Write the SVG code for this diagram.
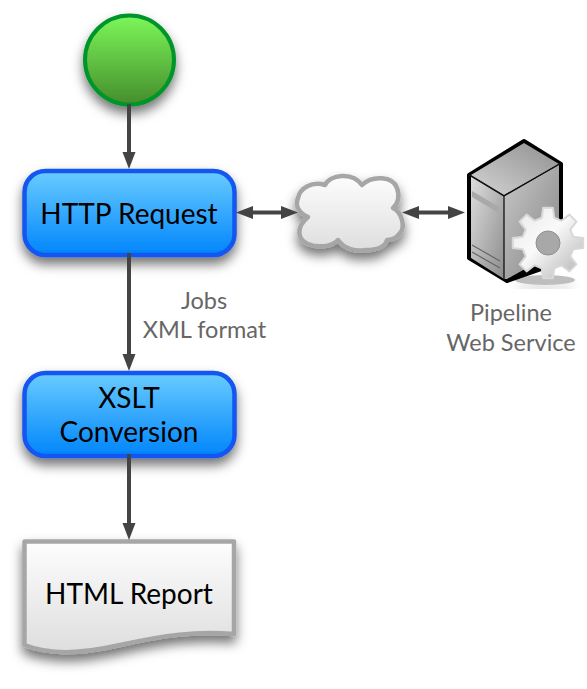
<svg xmlns="http://www.w3.org/2000/svg" width="587" height="689" viewBox="0 0 587 689">
<style>
.t{font-family:Lato,"Open Sans",sans-serif;text-anchor:middle}
.n{font-size:28px;fill:#000}
.l{font-size:23.500px;fill:#666}
.c{stroke:#444;stroke-width:4;fill:none}
.box{fill:url(#blue);stroke:#1257f0;stroke-width:4.500;filter:url(#sh)}
.gr{fill:url(#grey);stroke:#a6a6a6;stroke-width:4.500;stroke-linejoin:round;filter:url(#sh)}
</style>
<defs>
<linearGradient id="green" x1="0" y1="0" x2="0" y2="1"><stop offset="0" stop-color="#7cf75a"/><stop offset="1" stop-color="#458d2c"/></linearGradient>
<linearGradient id="blue" x1="0" y1="0" x2="0" y2="1"><stop offset="0" stop-color="#6accff"/><stop offset="1" stop-color="#0085fb"/></linearGradient>
<linearGradient id="grey" x1="0" y1="0" x2="0" y2="1"><stop offset="0" stop-color="#fdfdfd"/><stop offset="1" stop-color="#dedede"/></linearGradient>
<linearGradient id="top" x1="0" y1="1" x2="1" y2="0"><stop offset="0" stop-color="#d4d4d4"/><stop offset="1" stop-color="#8f8f8f"/></linearGradient>
<linearGradient id="left" x1="0" y1="0" x2="1" y2="1"><stop offset="0" stop-color="#dedede"/><stop offset="1" stop-color="#8c8c8c"/></linearGradient>
<linearGradient id="right" x1="0" y1="0" x2="1" y2="1"><stop offset="0" stop-color="#c8c8c8"/><stop offset="1" stop-color="#848484"/></linearGradient>
<linearGradient id="gear" x1="0" y1="0" x2="1" y2="1"><stop offset="0" stop-color="#e8e8e8"/><stop offset="0.45" stop-color="#fafafa"/><stop offset="1" stop-color="#b0b0b0"/></linearGradient>
<filter id="sh" x="-30%" y="-30%" width="160%" height="170%"><feDropShadow dx="0" dy="7" stdDeviation="6" flood-color="#000" flood-opacity="0.55"/></filter>
<marker id="end" viewBox="0 0 17 14" refX="3" refY="7" markerWidth="17" markerHeight="14" markerUnits="userSpaceOnUse" orient="auto"><path d="M0 0.500L17 7L0 13.500Z" fill="#444"/></marker>
<marker id="start" viewBox="0 0 17 14" refX="14" refY="7" markerWidth="17" markerHeight="14" markerUnits="userSpaceOnUse" orient="auto"><path d="M17 0.500L0 7L17 13.500Z" fill="#444"/></marker>
</defs>
<rect width="587" height="689" fill="#fff"/>
<g id="start-node"><circle cx="129.500" cy="60" r="44.500" fill="url(#green)" stroke="#03952c" stroke-width="4" filter="url(#sh)"/></g>
<g id="http-request"><rect class="box" x="24.500" y="171" width="210" height="84" rx="21"/><text class="t n" x="129" y="224">HTTP Request</text></g>
<g id="xslt-conversion"><rect class="box" x="24.500" y="373" width="210" height="83" rx="21"/><text class="t n" x="129" y="408">XSLT</text><text class="t n" x="129" y="442">Conversion</text></g>
<g id="html-report"><path class="gr" d="M24.500 541.500H234V634C195 631 165 635 120 645C80 654 50 655 24.500 645Z"/><text class="t n" x="129" y="604">HTML Report</text></g>
<g id="cloud"><path class="gr" d="M308 217C298 212 295 205 298 198C300 188 312 181 325 185C330 175 352 171 362 185C372 175 393 176 397 188C400 196 398 204 393 208C403 213 405 228 400 233C397 238 392 240 387 240C385 247 376 250 366 250C356 252 344 249 338 240C332 247 318 248 308 244C298 240 295 228 308 217Z"/></g>
<g id="server">
<path d="M524 141L561 164V262L507 281L469 258V175Z" fill="#000" stroke="#000" stroke-width="4" stroke-linejoin="round"/>
<path d="M524 143L559 164L504 195L471 175Z" fill="url(#top)"/>
<path d="M471 176L504 196V279L471 258Z" fill="url(#left)"/>
<path d="M504 196L559 165V250L507 279H504Z" fill="url(#right)"/>
<path d="M469 175L504 196L561 163M504 196V280" fill="none" stroke="#111" stroke-width="1.300"/>
<path d="M472 191L499 207V213L472 197Z" fill="#a9a9a9"/>
<path d="M472 245L500 261M472 252L500 268" fill="none" stroke="#666" stroke-width="1.200"/>
<ellipse cx="545" cy="280" rx="30" ry="5" fill="#000" opacity="0.25" filter="url(#sh)"/>
<g transform="translate(548 243)"><path d="M-6.300-25.200L-4.900-35.200L4.900-35.200L6.300-25.200L13.400-22.300L21.400-28.400L28.400-21.400L22.300-13.400L25.200-6.300L35.200-4.900L35.200 4.900L25.200 6.300L22.300 13.400L28.400 21.400L21.400 28.400L13.400 22.300L6.300 25.200L4.900 35.200L-4.900 35.200L-6.300 25.200L-13.400 22.300L-21.400 28.400L-28.400 21.400L-22.300 13.400L-25.200 6.300L-35.200 4.900L-35.200-4.900L-25.200-6.300L-22.300-13.400L-28.400-21.400L-21.400-28.400L-13.400-22.300Z" fill="url(#gear)" stroke="#d8d8d8" stroke-width="2" stroke-linejoin="round"/><circle r="12" fill="#a8a8a8" stroke="#8f8f8f"/></g>
</g>
<g id="connectors">
<path class="c" d="M129 104V155" marker-end="url(#end)"/>
<path class="c" d="M129 253V357" marker-end="url(#end)"/>
<path class="c" d="M129 454V526" marker-end="url(#end)"/>
<path class="c" d="M250 212.500H284" marker-start="url(#start)" marker-end="url(#end)"/>
<path class="c" d="M416 212.500H451" marker-start="url(#start)" marker-end="url(#end)"/>
</g>
<g id="labels">
<text class="t l" x="204" y="309">Jobs</text><text class="t l" x="204.500" y="338">XML format</text>
<text class="t l" x="511" y="321">Pipeline</text><text class="t l" x="511" y="351">Web Service</text>
</g>
</svg>
